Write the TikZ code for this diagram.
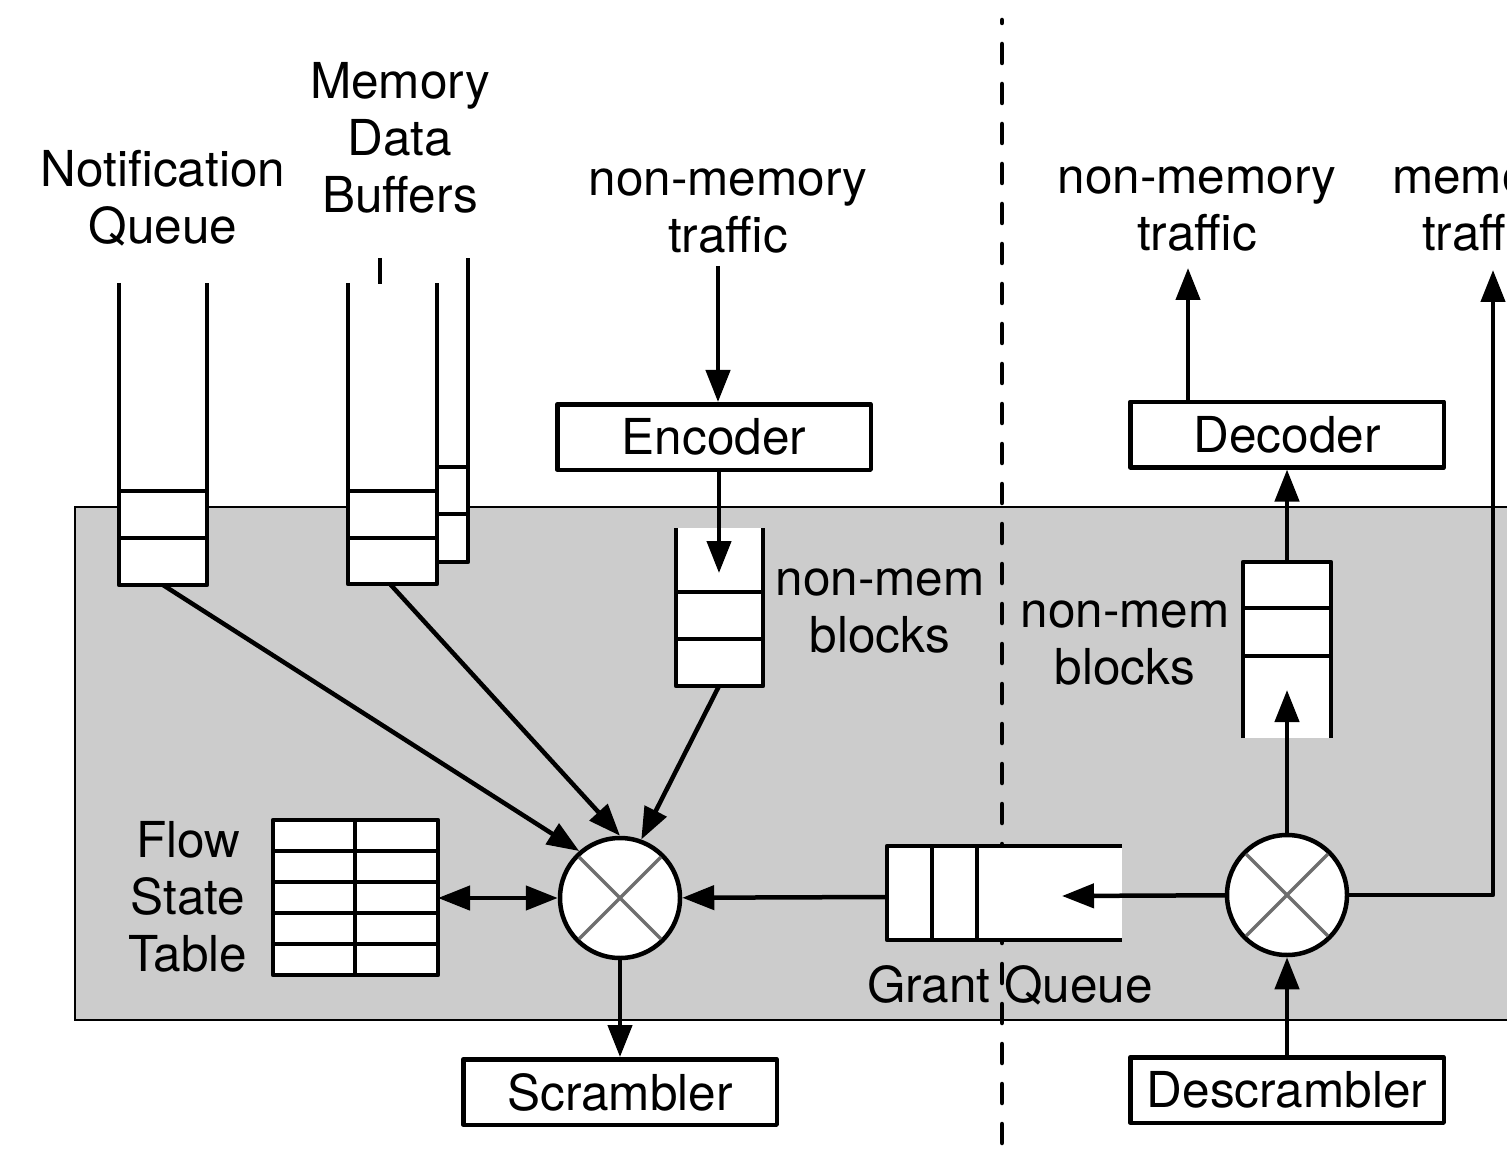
\documentclass[tikz,border=0pt]{standalone}
\usepackage{fontspec}
\setmainfont{TeX Gyre Heros}
\usetikzlibrary{arrows.meta,calc}
\definecolor{shade}{HTML}{CCCCCC}
\definecolor{crossgray}{HTML}{6E6E6E}
\begin{document}
\begin{tikzpicture}[x=1pt,y=-1pt,
  every node/.style={font=\fontsize{49.5}{57}\selectfont, inner sep=0pt},
  ln/.style={line width=4.5pt, line join=round},
  arr/.style={ln, -{Triangle[length=32pt,width=24pt]}},
  darr/.style={ln, {Triangle[length=32pt,width=24pt]}-{Triangle[length=32pt,width=24pt]}},
  blockbox/.style={draw, line width=4.5pt, line join=round, fill=white, minimum width=313.5pt, minimum height=65.5pt},
  xbar/.style={draw, line width=4.5pt, circle, fill=white, minimum size=120pt},
  txt/.style={align=center, anchor=base},
  xline/.style={draw=crossgray, line width=3.5pt},
]
\clip (0,0) rectangle (1507,1155);

% shaded hardware region
\draw[line width=2pt, fill=shade] (75,507) rectangle (1530,1020);

% dividing line between the two sides
\draw[line width=4.5pt, line cap=round, dash pattern=on 19pt off 21pt, dash phase=16pt] (1002,20) -- (1002,1160);

% ---------- left side ----------
% notification queue
\fill[white] (119,491) rectangle (207,585);
\draw[ln] (119,283) -- (119,585) -- (207,585) -- (207,283);
\draw[ln] (119,491) -- (207,491) (119,538) -- (207,538);
\coordinate (nq) at (163,585);
\node[txt] (nql) at (163,244) {Notification\\Queue};

% memory data buffers
\fill[white] (348,491) rectangle (437,584);
\fill[white] (437,467) rectangle (468,562);
\draw[ln] (348,283) -- (348,584) -- (437,584) -- (437,283);
\draw[ln] (348,491) -- (437,491) (348,538) -- (437,538);
\draw[ln] (437,562) -- (468,562) -- (468,258);
\draw[ln] (437,467) -- (468,467) (437,514) -- (468,514);
\draw[ln] (380,258) -- (380,284);
\coordinate (mq) at (390,584);
\node[txt] (mdl) at (400,213) {Memory\\Data\\Buffers};

% encoder and non-memory blocks
\node[txt] (nmtl) at (728,253) {non-memory\\traffic};
\node[blockbox] (enc) at (714,437) {Encoder};
\coordinate (nmtin) at (718,266);
\draw[arr] (nmtin) -- (enc.north -| nmtin);
\fill[white] (676,528) rectangle (763,686);
\draw[ln] (676,528) -- (676,686) -- (763,686) -- (763,528);
\draw[ln] (676,592) -- (763,592) (676,639) -- (763,639);
\coordinate (eq) at (719,573);
\coordinate (eqb) at (719,686);
\draw[arr] (enc.south -| eq) -- (eq);
\node[txt] (nmbl) at (880,652) {non-mem\\blocks};

% left crossbar
\node[xbar] (cl) at (620,898) {};
\draw[xline] ($(cl.center)!0.93!(cl.45)$) -- ($(cl.center)!0.93!(cl.225)$);
\draw[xline] ($(cl.center)!0.93!(cl.135)$) -- ($(cl.center)!0.93!(cl.315)$);
\draw[arr] (nq) -- (cl.131);
\draw[arr] (mq) -- (cl.90);
\draw[arr] (eqb) -- (cl.70);

% flow state table
\fill[white] (273,820) rectangle (438,975);
\draw[ln] (273,820) rectangle (438,975);
\foreach \yy in {851,882,913,944} \draw[ln] (273,\yy) -- (438,\yy);
\draw[ln] (355,820) -- (355,975);
\coordinate (fst) at (438,898);
\node[txt] (fstl) at (188,971) {Flow\\State\\Table};
\draw[darr] (fst) -- (cl);

% scrambler
\node[blockbox] (scr) at (620,1092) {Scrambler};
\draw[arr] (cl) -- (scr);

% ---------- grant queue ----------
\fill[white] (887,846) rectangle (1122,940);
\draw[ln] (1122,846) -- (887,846) -- (887,940) -- (1122,940);
\draw[ln] (932,846) -- (932,940) (977,846) -- (977,940);
\coordinate (gqin) at (1062,896);
\coordinate (gqout) at (887,897);
\node[txt] (gql) at (1010,1002) {Grant Queue};
\draw[arr] (gqout) -- (cl);

% ---------- right side ----------
\node[xbar] (cr) at (1287,895) {};
\draw[xline] ($(cr.center)!0.93!(cr.45)$) -- ($(cr.center)!0.93!(cr.225)$);
\draw[xline] ($(cr.center)!0.93!(cr.135)$) -- ($(cr.center)!0.93!(cr.315)$);
\draw[arr] (cr) -- (gqin);

% received non-memory blocks
\fill[white] (1243,562) rectangle (1331,738);
\draw[ln] (1243,738) -- (1243,562) -- (1331,562) -- (1331,738);
\draw[ln] (1243,608) -- (1331,608) (1243,656) -- (1331,656);
\coordinate (rqt) at (1287,562);
\coordinate (rqin) at (1287,690);
\draw[arr] (cr) -- (rqin);
\node[txt] (nmbr) at (1125,684) {non-mem\\blocks};

% decoder
\node[blockbox] (dec) at (1287,434.5) {Decoder};
\draw[arr] (rqt) -- (dec.south);
\coordinate (dout) at (1188,268);
\draw[arr] (dec.north -| dout) -- (dout);
\node[txt] (nmtr) at (1197,251) {non-memory\\traffic};

% memory traffic
\coordinate (mout) at (1493,270);
\draw[arr] (cr.east) -- (cr.east -| mout) -- (mout);
\node[txt] (mtr) at (1482,251) {memory\\traffic};

% descrambler
\node[blockbox] (dsc) at (1287,1090) {Descrambler};
\draw[arr] (dsc) -- (cr);
\end{tikzpicture}
\end{document}
